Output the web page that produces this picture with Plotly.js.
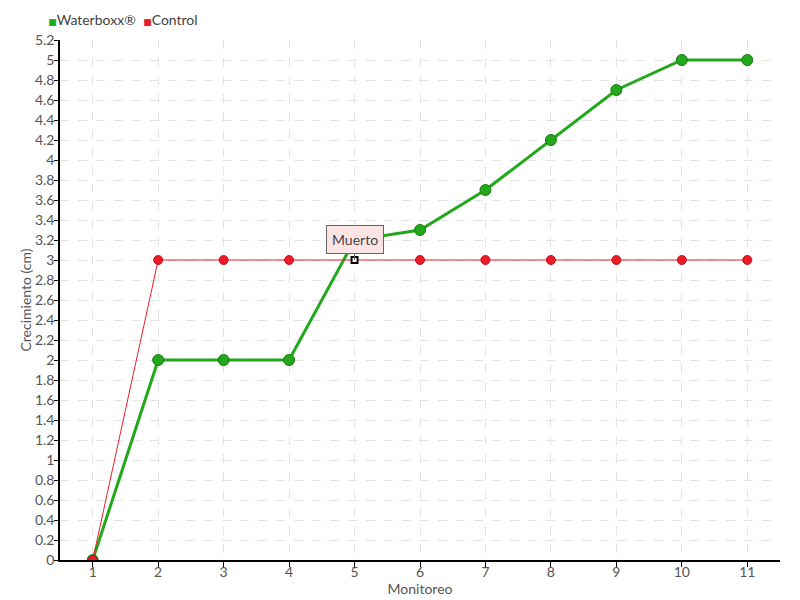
<!DOCTYPE html>
<html><head><meta charset="utf-8">
<script src="https://cdn.plot.ly/plotly-3.0.1.min.js"></script>
<style>body{margin:0;background:#fff}#chart{width:800px;height:600px}</style>
</head><body><div id="chart"></div>
<script>
const monitoreo = [1,2,3,4,5,6,7,8,9,10,11];
const waterboxx = [0,2,2,2,3.2,3.3,3.7,4.2,4.7,5,5];
const control = [0,3,3,3,3,3,3,3,3,3,3];
const deadIndex = 4;
const deadLabel = 'Muerto';
const yTicks = [0,0.2,0.4,0.6,0.8,1,1.2,1.4,1.6,1.8,2,2.2,2.4,2.6,2.8,3,3.2,3.4,3.6,3.8,4,4.2,4.4,4.6,4.8,5,5.2];
const seriesNames = ['Waterboxx®', 'Control'];
const seriesColors = ['#22a81a', '#ea1c2a'];

const FONT = 'Lato, "DejaVu Sans", sans-serif';

const ctrlSymbols = control.map((v,i)=> i===deadIndex ? 'square' : 'circle');
const ctrlColors = control.map((v,i)=> i===deadIndex ? '#ffffff' : seriesColors[1]);
const ctrlLineColors = control.map((v,i)=> i===deadIndex ? '#000000' : '#c8101c');
const ctrlSizes = control.map((v,i)=> i===deadIndex ? 6 : 9);
const ctrlLineW = control.map((v,i)=> i===deadIndex ? 2 : 1);

const legendEntry = (i) => ({
  x:[null], y:[null], mode:'markers', showlegend:true,
  name:'<span style="font-size:9px;color:' + seriesColors[i] + '">■</span>' + seriesNames[i],
  marker:{symbol:'square', color:'rgba(0,0,0,0)', size:1}
});

const traces = [
  {x: monitoreo, y: waterboxx, mode:'lines+markers', name:seriesNames[0], showlegend:false,
   line:{color:seriesColors[0], width:3},
   marker:{symbol:'circle', color:seriesColors[0], size:11, opacity:1, line:{color:'#1a7a14', width:1}}},
  {x: monitoreo, y: control, mode:'lines+markers', name:seriesNames[1], showlegend:false,
   line:{color:seriesColors[1], width:1},
   marker:{symbol:ctrlSymbols, color:ctrlColors, size:ctrlSizes, opacity:1, line:{color:ctrlLineColors, width:ctrlLineW}}},
  legendEntry(0),
  legendEntry(1)
];
const layout = {
  width:800, height:600,
  margin:{l:60, r:20, t:40, b:40, autoexpand:false},
  paper_bgcolor:'#fff', plot_bgcolor:'#fff',
  font:{family:FONT, color:'#555', size:14},
  showlegend:true,
  legend:{orientation:'h', x:-0.072, xanchor:'left', y:1.038, yanchor:'middle', font:{size:14, color:'#444', family:FONT},
          itemwidth:30, entrywidth:50, entrywidthmode:'pixels', tracegroupgap:0, bgcolor:'rgba(0,0,0,0)'},
  xaxis:{range:[0.5,11.5], tickvals:monitoreo, ticktext:monitoreo.map(String),
         showline:true, linecolor:'#000', linewidth:1.5, ticks:'outside', ticklen:5, tickcolor:'#000',
         ticklabelstandoff:-7,
         showgrid:true, gridcolor:'#e3e3e3', griddash:'dash', zeroline:false,
         title:{text:'Monitoreo', font:{size:14, color:'#555'}, standoff:2}, tickfont:{size:14, color:'#555'}},
  yaxis:{range:[0,5.2], tickvals:yTicks, ticktext:yTicks.map(String),
         showline:true, linecolor:'#000', linewidth:1.5, ticks:'outside', ticklen:4, tickcolor:'#000',
         ticklabelstandoff:-3,
         showgrid:true, gridcolor:'#e3e3e3', griddash:'dash', zeroline:false,
         title:{text:'Crecimiento (cm)', font:{size:14, color:'#555'}, standoff:0}, tickfont:{size:14, color:'#555'}},
  annotations:[{x:monitoreo[deadIndex], y:control[deadIndex], xref:'x', yref:'y', text:deadLabel,
     showarrow:true, arrowhead:0, arrowwidth:1, arrowcolor:'#666', ax:0, ay:-21,
     bgcolor:'#fde4e4', bordercolor:'#666', borderwidth:1, borderpad:5,
     font:{size:14, color:'#444', family:FONT}}]
};
Plotly.newPlot('chart', traces, layout, {displayModeBar:false});
</script></body></html>
